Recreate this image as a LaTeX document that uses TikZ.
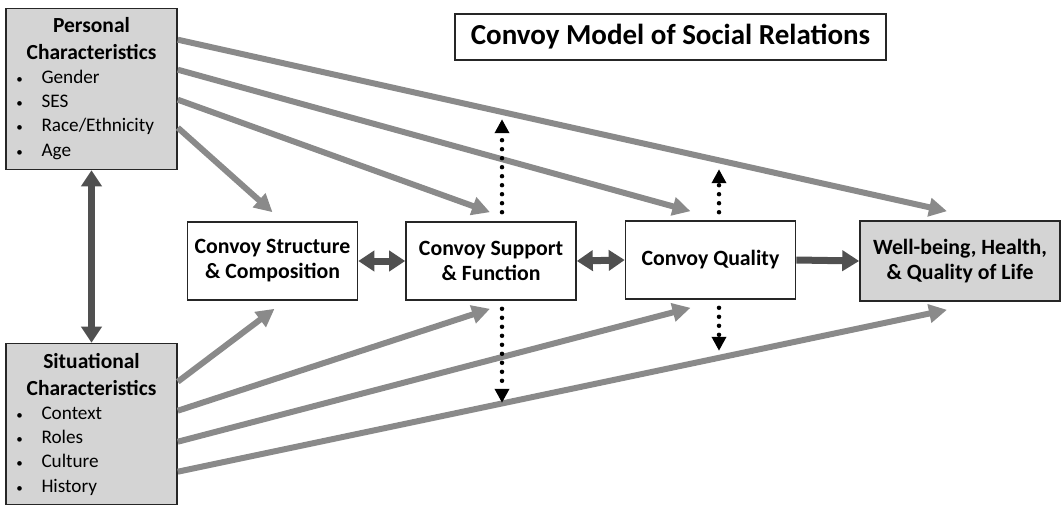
\documentclass[tikz,border=0pt]{standalone}
\usepackage{fontspec}
\setmainfont{Carlito}
\usetikzlibrary{arrows.meta,calc,positioning}
\definecolor{boxgray}{HTML}{D4D4D4}
\definecolor{arrowgray}{HTML}{8A8A8A}
\definecolor{darkarrow}{HTML}{505050}

\begin{document}
\begin{tikzpicture}[x=1pt, y=-1pt,
		basic/.style  = {draw=black!85, line width=1.6pt, rectangle, align=center, font=\bfseries\fontsize{21.8}{25}\selectfont},
		title/.style  = {basic, line width=1.2pt, minimum width=431pt, minimum height=46pt, font=\bfseries\fontsize{29}{32}\selectfont},
		convoy/.style = {basic, minimum width=170pt, minimum height=78pt},
		outcome/.style = {basic, fill=boxgray, minimum width=200pt, minimum height=80pt},
		chars/.style  = {basic, fill=boxgray, minimum width=171pt, minimum height=161pt, text width=166pt, inner sep=0pt, align=left},
		garrow/.style = {draw=arrowgray, line width=6pt, -{Triangle[length=18pt,width=18pt]}},
		darrow/.style = {draw=darkarrow, line width=7pt, {Triangle[length=16pt,width=20pt]}-{Triangle[length=16pt,width=20pt]}},
		sarrow/.style = {draw=darkarrow, line width=7pt, arrows={-Triangle[length=17pt,width=20pt]}},
		dotarrow/.style = {draw=black, line width=4.5pt, line cap=round, dash pattern=on 0pt off 9pt, -{Triangle[length=14pt,width=14pt]}},
		>=latex]
		\useasboundingbox (0,0) rectangle (1062,506);
		
		% title of the model
		\node[title] (ttl) at (670.5,37) {Convoy Model of Social Relations};
		
		% the two groups of characteristics on the left
		\node[chars] (pers) at (91.5,89) {%
			{\centering\fontsize{21.5}{27}\selectfont Personal\\Characteristics\par}
			\mdseries\fontsize{19.2}{24}\selectfont
			\hspace*{8pt}\makebox[25pt][l]{\fontsize{13}{13}\selectfont\textbullet}Gender\\
			\hspace*{8pt}\makebox[25pt][l]{\fontsize{13}{13}\selectfont\textbullet}SES\\
			\hspace*{8pt}\makebox[25pt][l]{\fontsize{13}{13}\selectfont\textbullet}Race/Ethnicity\\
			\hspace*{8pt}\makebox[25pt][l]{\fontsize{13}{13}\selectfont\textbullet}Age};
		\node[chars] (sit) at (91.5,424) {%
			{\centering\fontsize{21.5}{27}\selectfont Situational\\Characteristics\par}
			\mdseries\fontsize{19.2}{24}\selectfont
			\hspace*{8pt}\makebox[25pt][l]{\fontsize{13}{13}\selectfont\textbullet}Context\\
			\hspace*{8pt}\makebox[25pt][l]{\fontsize{13}{13}\selectfont\textbullet}Roles\\
			\hspace*{8pt}\makebox[25pt][l]{\fontsize{13}{13}\selectfont\textbullet}Culture\\
			\hspace*{8pt}\makebox[25pt][l]{\fontsize{13}{13}\selectfont\textbullet}History};
		
		% the convoy boxes in the middle row
		\node[convoy] (struct) at (272.5,261) {Convoy Structure\\\& Composition};
		\node[convoy] (supp) at (491,261) {Convoy Support\\\& Function};
		\node[convoy] (qual) at (710.5,260) {Convoy Quality};
		\node[outcome] (well) at (960,261) {Well-being, Health,\\\& Quality of Life};
		
		% links between the boxes of the middle row
		\draw[darrow] (pers.south) -- (sit.north);
		\draw[darrow] (struct.east) -- (supp.west);
		\draw[darrow] (supp.east) -- (qual.west);
		\draw[sarrow] (qual.east) -- (well.west);
		
		% arrows from the personal characteristics
		\foreach \dy/\dest/\dx in {32/well/-13, 62/qual/-20, 92/supp/-1, 120/struct/0}
		\draw[garrow] ($(pers.north east)+(0,\dy)$) -- ($(\dest.north)+(\dx,-9)$);
		
		% arrows from the situational characteristics
		\foreach \dy/\dest/\dx in {39/struct/2, 68/supp/-1, 99/qual/-20, 129/well/-13}
		\draw[garrow] ($(sit.north east)+(0,\dy)$) -- ($(\dest.south)+(\dx,8)$);
		
		% dotted arrows above and below support and quality
		\draw[dotarrow] ($(supp.north)+(11,-9)$) -- ($(supp.north)+(11,-102)$);
		\draw[dotarrow] ($(supp.south)+(11,8)$) -- ($(supp.south)+(11,102)$);
		\draw[dotarrow] ($(qual.north)+(8.5,-8)$) -- ($(qual.north)+(8.5,-51)$);
		\draw[dotarrow] ($(qual.south)+(8.5,8)$) -- ($(qual.south)+(8.5,51)$);
		
	\end{tikzpicture}
\end{document}
